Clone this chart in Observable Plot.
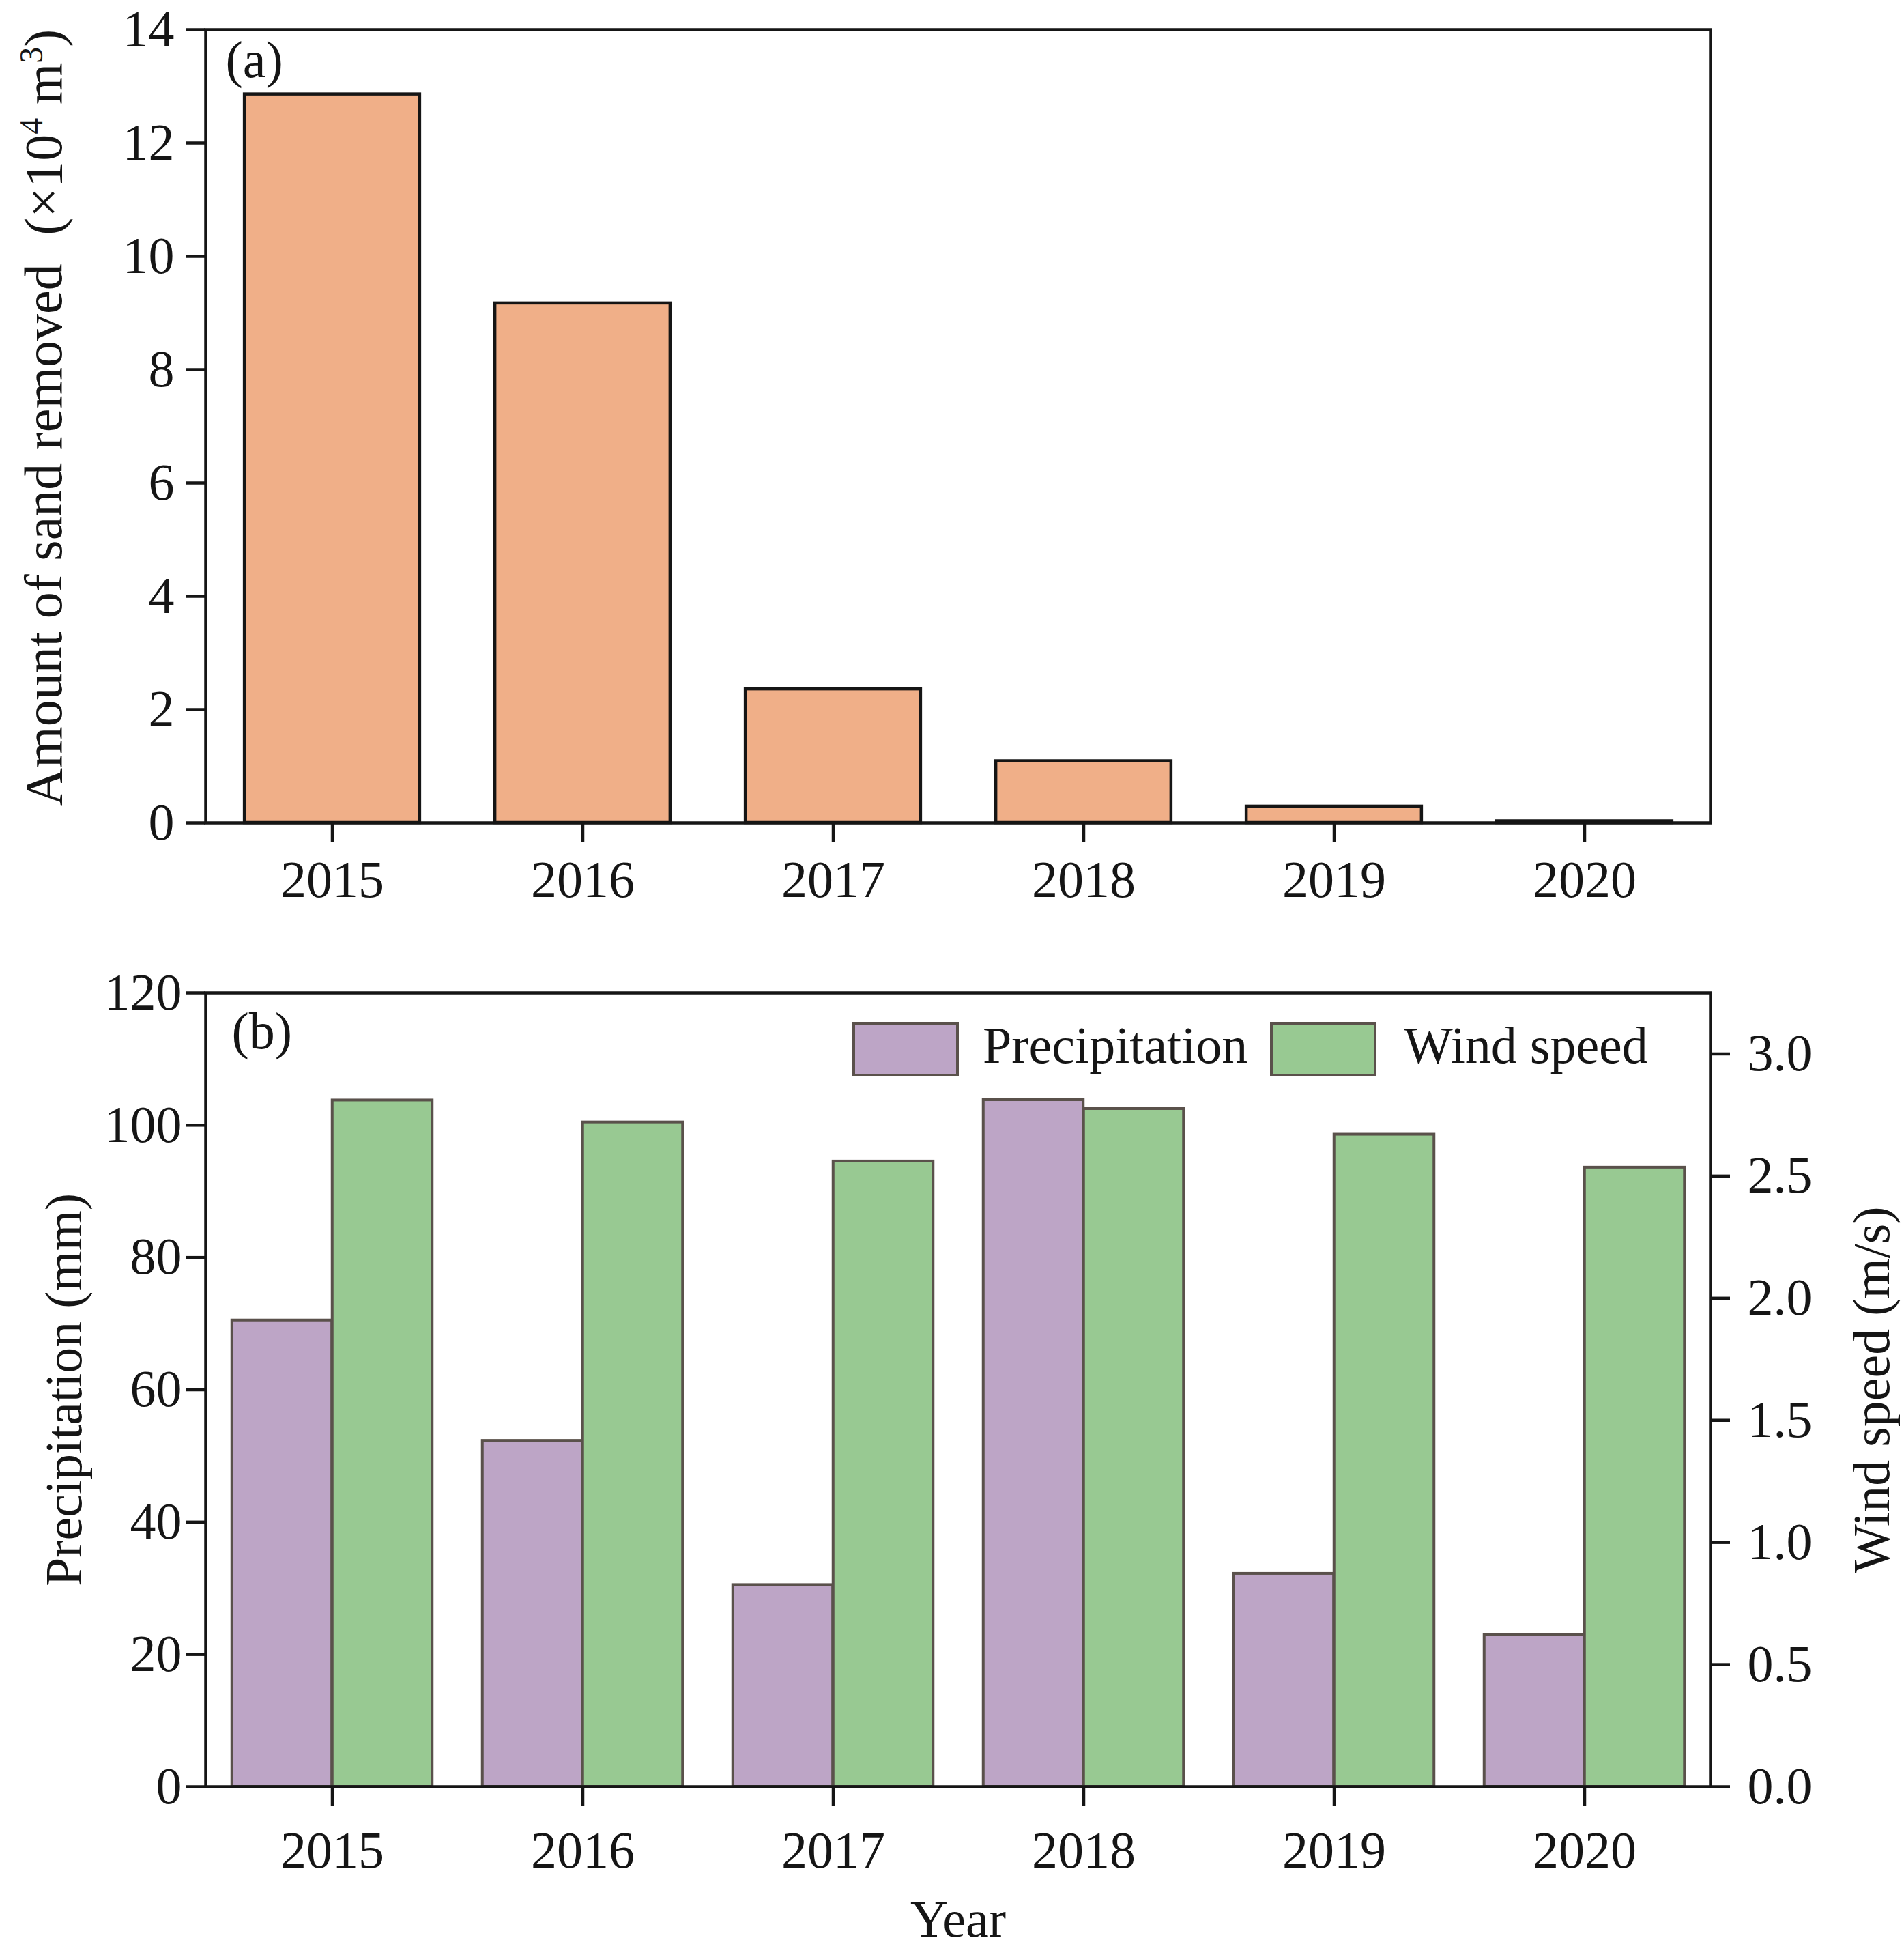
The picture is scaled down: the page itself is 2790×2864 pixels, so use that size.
<!DOCTYPE html>
<html>
<head>
<meta charset="utf-8">
<script src="https://cdn.jsdelivr.net/npm/d3@7"></script>
<script src="https://cdn.jsdelivr.net/npm/@observablehq/plot@0.6"></script>
<style>
  html, body { margin: 0; padding: 0; background: #ffffff; }
  #chart { width: 2790px; }
  #chart svg { display: block; }
</style>
</head>
<body>
<div id="chart"></div>
<script>
// ---------------- data ----------------
const years = ["2015", "2016", "2017", "2018", "2019", "2020"];
const sandRemoved = [12.86, 9.17, 2.36, 1.09, 0.29, 0.03];      // ×10^4 m^3
const precipitation = [70.5, 52.3, 30.5, 103.8, 32.2, 23.0];    // mm
const windSpeed = [2.81, 2.72, 2.56, 2.775, 2.67, 2.535];       // m/s
const sandTicks = [0, 2, 4, 6, 8, 10, 12, 14];
const precipTicks = [0, 20, 40, 60, 80, 100, 120];
const windTicks = [0, 0.5, 1.0, 1.5, 2.0, 2.5, 3.0];
const sandDomain = [0, 14];
const precipDomain = [0, 120];
const windDomain = [0, 3.25];
const seriesNames = ["Precipitation", "Wind speed"];

// ---------------- styles / layout ----------------
const colSand = "#F0AF88";
const colPrecip = "#BDA5C6";
const colWind = "#98C992";
const ink = "#151515";
const barEdgeB = "#5a514b";
const fontFamily = "'Liberation Serif', 'Times New Roman', Times, serif";
const fontSize = 76;

const W = 2790, ML = 301, MR = 284;
const HA = 1380, MTA = 43, MBA = 175;
const HB = 1484, MTB = 74, MBB = 247;
const step = (W - ML - MR) / years.length;

const baseStyle = {fontFamily, fontSize: fontSize + "px", color: ink, background: "#ffffff"};

// ---------------- panel (a) ----------------
const sandData = years.map((y, i) => ({year: y, value: sandRemoved[i]}));

const plotA = Plot.plot({
  width: W, height: HA,
  marginLeft: ML, marginRight: MR, marginTop: MTA, marginBottom: MBA,
  style: baseStyle,
  x: {type: "band", domain: years, padding: 0, label: null},
  y: {domain: sandDomain, label: null},
  marks: [
    Plot.barY(sandData, {
      x: "year", y: "value", fill: colSand, stroke: ink, strokeWidth: 4.5,
      insetLeft: step * 0.15, insetRight: step * 0.15
    }),
    Plot.frame({stroke: ink, strokeWidth: 4.5}),
    Plot.axisY({ticks: sandTicks, tickSize: 28, tickPadding: 18, strokeWidth: 4.5, label: null}),
    Plot.axisX({tickSize: 28, tickPadding: 27, strokeWidth: 4.5, label: null}),
    Plot.text(["(a)"], {text: d => d, frameAnchor: "top-left", dx: 29, dy: 69, textAnchor: "start", lineAnchor: "bottom"})
  ]
});

// y title with superscripts
{
  const cy = 612;
  const t = d3.select(plotA).append("text")
    .attr("transform", `translate(90,${cy}) rotate(-90)`)
    .attr("text-anchor", "middle")
    .attr("fill", ink)
    .style("font-family", fontFamily)
    .style("font-size", "78px");
  t.append("tspan").text("Amount of sand removed");
  t.append("tspan").attr("dx", 22).text(" (×10");
  t.append("tspan").attr("dy", -28).style("font-size", "48px").text("4");
  t.append("tspan").attr("dy", 28).text(" m");
  t.append("tspan").attr("dy", -28).style("font-size", "48px").text("3");
  t.append("tspan").attr("dy", 28).text(")");
}

// ---------------- panel (b) ----------------
const k = precipDomain[1] / windDomain[1];
const climate = years.map((y, i) => ({year: y, precip: precipitation[i], wind: windSpeed[i]}));

const plotB = Plot.plot({
  width: W, height: HB,
  marginLeft: ML, marginRight: MR, marginTop: MTB, marginBottom: MBB,
  style: baseStyle,
  x: {type: "band", domain: years, padding: 0, label: null},
  y: {domain: precipDomain, label: null},
  marks: [
    Plot.barY(climate, {
      x: "year", y: "precip", fill: colPrecip, stroke: barEdgeB, strokeWidth: 4,
      insetLeft: step * 0.1, insetRight: step * 0.5
    }),
    Plot.barY(climate, {
      x: "year", y: d => d.wind * k, fill: colWind, stroke: barEdgeB, strokeWidth: 4,
      insetLeft: step * 0.5, insetRight: step * 0.1
    }),
    Plot.frame({stroke: ink, strokeWidth: 4.5}),
    Plot.axisY({ticks: precipTicks, tickSize: 28, tickPadding: 7, strokeWidth: 4.5, label: null}),
    Plot.axisY(windTicks, {
      anchor: "right", y: d => d * k, tickFormat: d => d.toFixed(1),
      tickSize: 28, tickPadding: 26, strokeWidth: 4.5, label: null
    }),
    Plot.axisX({tickSize: 28, tickPadding: 37, strokeWidth: 4.5, label: null}),
    Plot.text(["(b)"], {text: d => d, frameAnchor: "top-left", dx: 38, dy: 81, textAnchor: "start", lineAnchor: "bottom"}),
    Plot.text(["Year"], {text: d => d, frameAnchor: "bottom", dy: 219, textAnchor: "middle", lineAnchor: "bottom"}),
    Plot.text(["Precipitation (mm)"], {text: d => d, frameAnchor: "left", dx: 118 - ML, rotate: -90, textAnchor: "middle", lineAnchor: "bottom"}),
    Plot.text(["Wind speed (m/s)"], {text: d => d, frameAnchor: "right", dx: 2767 - (W - MR), rotate: -90, textAnchor: "middle", lineAnchor: "bottom"})
  ]
});

// legend (inside panel b)
{
  const svg = d3.select(plotB);
  const g = svg.append("g").attr("fill", ink).attr("text-anchor", "start")
    .style("font-family", fontFamily).style("font-size", fontSize + "px");
  const items = [
    {name: seriesNames[0], color: colPrecip, bx: 1251, tx: 1440},
    {name: seriesNames[1], color: colWind, bx: 1863, tx: 2057}
  ];
  for (const it of items) {
    g.append("rect").attr("x", it.bx).attr("y", 119).attr("width", 152).attr("height", 76)
      .attr("fill", it.color).attr("stroke", barEdgeB).attr("stroke-width", 4);
    g.append("text").attr("x", it.tx).attr("y", 177).attr("text-anchor", "start").text(it.name);
  }
}

const chart = document.getElementById("chart");
chart.appendChild(plotA);
chart.appendChild(plotB);
</script>
</body>
</html>
